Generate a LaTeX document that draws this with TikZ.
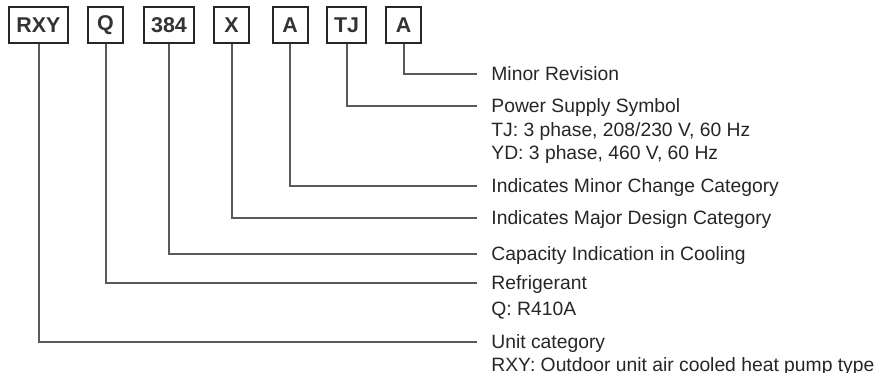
\documentclass[tikz,border=0pt]{standalone}
\usepackage{fontspec}
\setmainfont{Liberation Sans}
\begin{document}
\begin{tikzpicture}[x=0.5pt,y=-0.5pt,
 box/.style={draw=black!85, line width=1pt, minimum width=17.5pt, minimum height=18pt, inner sep=3.5pt, font=\fontsize{10.7}{12}\selectfont\bfseries, text=black!80},
 lbl/.style={anchor=west, inner sep=0pt, font=\fontsize{9.65}{11}\selectfont, text=black!85, text height=6.9pt, text depth=0pt},
 conn/.style={draw=black!65, line width=1pt}]
\useasboundingbox (0,0) rectangle (877,373);
% code boxes
\node[box] (b1) at (38.5,25) {RXY};
\node[box] (b2) at (105.5,25) {Q};
\node[box] (b3) at (169,25) {384};
\node[box] (b4) at (231.5,25) {X};
\node[box] (b5) at (290,25) {A};
\node[box] (b6) at (346.5,25) {TJ};
\node[box] (b7) at (403.5,25) {A};
% labels
\node[lbl] (l1) at (491,74) {Minor Revision};
\node[lbl] (l2) at (491,106) {Power Supply Symbol};
\node[lbl] (l2a) at (491,130) {TJ: 3 phase, 208/230 V, 60 Hz};
\node[lbl] (l2b) at (491,153) {YD: 3 phase, 460 V, 60 Hz};
\node[lbl] (l3) at (491,186) {Indicates Minor Change Category};
\node[lbl] (l4) at (491,218) {Indicates Major Design Category};
\node[lbl] (l5) at (491,254) {Capacity Indication in Cooling};
\node[lbl] (l6) at (491,283) {Refrigerant};
\node[lbl] (l6a) at (491,309) {Q: R410A};
\node[lbl] (l7) at (491,342) {Unit category};
\node[lbl] (l7a) at (491,365) {RXY: Outdoor unit air cooled heat pump type};
% connectors
\draw[conn] (b7.south) |- ([xshift=-7pt]l1.west);
\draw[conn] (b6.south) |- ([xshift=-7pt]l2.west);
\draw[conn] (b5.south) |- ([xshift=-7pt]l3.west);
\draw[conn] (b4.south) |- ([xshift=-7pt]l4.west);
\draw[conn] (b3.south) |- ([xshift=-7pt]l5.west);
\draw[conn] (b2.south) |- ([xshift=-7pt]l6.west);
\draw[conn] (b1.south) |- ([xshift=-7pt]l7.west);
\end{tikzpicture}
\end{document}
